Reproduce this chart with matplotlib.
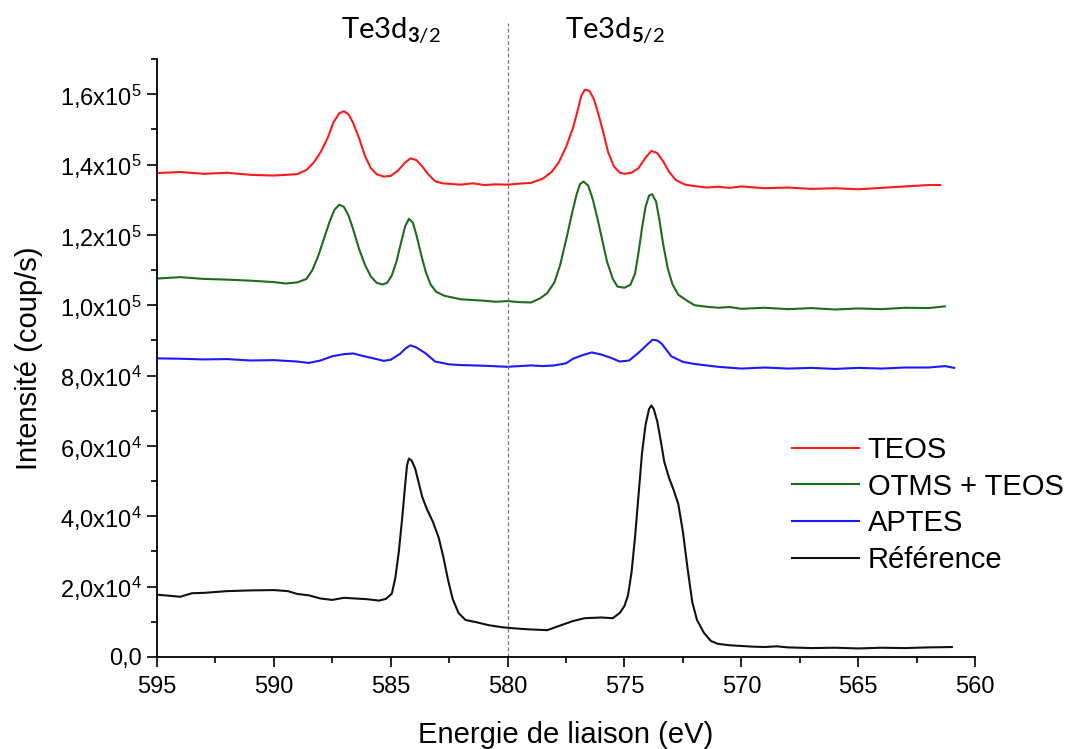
import matplotlib
matplotlib.use("Agg")
import matplotlib.pyplot as plt
from matplotlib.ticker import FuncFormatter, MultipleLocator
from matplotlib.transforms import blended_transform_factory

plt.rcParams["font.family"] = ["Liberation Sans", "DejaVu Sans"]
plt.rcParams["mathtext.fontset"] = "custom"
plt.rcParams["mathtext.bf"] = "Lato:bold"
plt.rcParams["mathtext.default"] = "regular"

# binding energy (eV) / intensity (counts/s)
teos_x = [595.0, 594.0, 593.0, 592.0, 591.0, 590.0, 589.0, 588.6, 588.3, 588.0, 587.7, 587.45,
          587.2, 587.0, 586.8, 586.6, 586.35, 586.1, 585.85, 585.6, 585.3, 585.0, 584.7, 584.4,
          584.15, 583.9, 583.65, 583.4, 583.1, 582.8, 582.4, 582.0, 581.5, 581.0, 580.5, 580.0,
          579.5, 579.0, 578.5, 578.1, 577.8, 577.5, 577.2, 577.0, 576.85, 576.7, 576.5, 576.3,
          576.1, 575.9, 575.7, 575.45, 575.2, 575.0, 574.7, 574.4, 574.1, 573.85, 573.6, 573.35,
          573.1, 572.8, 572.4, 572.0, 571.5, 571.0, 570.5, 570.0, 569.0, 568.0, 567.0, 566.0,
          565.0, 564.0, 563.0, 562.0, 561.5]
teos_y = [137600, 137900, 137400, 137700, 137100, 136900, 137300, 138500, 140500, 143500, 147500, 152000,
          154600, 155200, 154300, 151800, 147500, 142500, 139000, 137300, 136600, 136800, 138200, 140500,
          141800, 141300, 139500, 137300, 135300, 134700, 134500, 134300, 134700, 134200, 134400, 134300,
          134600, 134800, 136000, 138000, 140800, 145000, 150500, 155500, 159500, 161300, 161000, 158500,
          154000, 149000, 143500, 139500, 137700, 137400, 137700, 139000, 142000, 143900, 143300, 141000,
          138000, 135600, 134300, 133900, 133500, 133700, 133400, 133800, 133300, 133500, 133100, 133300,
          133000, 133400, 133800, 134200, 134200]

otms_x = [595.0, 594.0, 593.0, 592.0, 591.0, 590.0, 589.5, 589.0, 588.6, 588.35, 588.1, 587.85,
          587.6, 587.4, 587.2, 587.0, 586.8, 586.6, 586.35, 586.1, 585.85, 585.6, 585.35, 585.15,
          584.95, 584.75, 584.55, 584.38, 584.22, 584.05, 583.9, 583.7, 583.5, 583.3, 583.05, 582.7,
          582.0, 581.5, 581.0, 580.5, 580.0, 579.5, 579.0, 578.6, 578.3, 578.0, 577.75, 577.5,
          577.25, 577.05, 576.9, 576.75, 576.55, 576.35, 576.15, 575.95, 575.75, 575.5, 575.3, 575.0,
          574.75, 574.55, 574.4, 574.25, 574.1, 573.95, 573.82, 573.65, 573.5, 573.35, 573.15, 572.95,
          572.7, 572.3, 572.0, 571.5, 571.0, 570.5, 570.0, 569.0, 568.0, 567.0, 566.0, 565.0,
          564.0, 563.0, 562.0, 561.3]
otms_y = [107600, 108000, 107500, 107300, 107000, 106600, 106200, 106500, 107500, 110000, 114000, 119000,
          124000, 127200, 128600, 128000, 125500, 121500, 116000, 111500, 108200, 106400, 105900, 106400,
          108500, 112500, 118000, 122500, 124600, 123500, 120000, 114500, 109500, 106000, 103800, 102700,
          101700, 101500, 101300, 101000, 101200, 100900, 100800, 102000, 103500, 106500, 111500, 118500,
          126000, 131500, 134500, 135200, 134000, 130000, 124500, 118500, 112500, 107500, 105300, 105000,
          105800, 109000, 115000, 122000, 128000, 131200, 131600, 129500, 124000, 117500, 110500, 106000,
          103000, 101200, 100000, 99600, 99300, 99500, 99000, 99300, 98900, 99200, 98800, 99100,
          98900, 99300, 99200, 99700]

aptes_x = [595.0, 594.0, 593.0, 592.0, 591.0, 590.0, 589.0, 588.5, 588.0, 587.5, 587.0, 586.6,
           586.2, 585.8, 585.3, 585.0, 584.6, 584.35, 584.15, 583.9, 583.5, 583.1, 582.5, 582.0,
           581.0, 580.0, 579.0, 578.5, 578.0, 577.5, 577.2, 576.8, 576.4, 576.0, 575.6, 575.2,
           574.8, 574.4, 574.0, 573.8, 573.6, 573.4, 573.0, 572.5, 572.0, 571.0, 570.0, 569.0,
           568.0, 567.0, 566.0, 565.0, 564.0, 563.0, 562.0, 561.3, 560.9]
aptes_y = [84900, 84800, 84600, 84700, 84300, 84400, 84000, 83600, 84300, 85500, 86100, 86300,
           85600, 85000, 84200, 84500, 86200, 87800, 88600, 88000, 86300, 84000, 83200, 83000,
           82800, 82500, 82900, 82700, 82900, 83500, 84800, 85800, 86600, 86000, 85100, 84000,
           84300, 86500, 89000, 90200, 90000, 89000, 85500, 83900, 83300, 82500, 82000, 82300,
           82000, 82200, 81900, 82200, 82000, 82300, 82300, 82700, 82200]

ref_x = [595.0, 594.5, 594.0, 593.5, 593.0, 592.0, 591.0, 590.0, 589.4, 589.0, 588.5, 588.0,
         587.5, 587.0, 586.5, 586.0, 585.5, 585.2, 584.95, 584.8, 584.65, 584.5, 584.38, 584.3,
         584.22, 584.1, 583.95, 583.8, 583.65, 583.45, 583.2, 582.95, 582.75, 582.55, 582.35, 582.1,
         581.8, 581.3, 580.8, 580.2, 579.5, 579.0, 578.3, 577.8, 577.2, 576.7, 576.0, 575.5,
         575.2, 575.0, 574.85, 574.7, 574.55, 574.4, 574.25, 574.1, 573.95, 573.85, 573.75, 573.6,
         573.45, 573.3, 573.1, 572.9, 572.7, 572.5, 572.3, 572.1, 571.9, 571.6, 571.3, 571.0,
         570.5, 570.0, 569.5, 569.0, 568.5, 568.0, 567.0, 566.0, 565.0, 564.0, 563.0, 562.0,
         561.0]
ref_y = [17700, 17400, 17100, 18100, 18200, 18700, 18900, 19000, 18700, 17900, 17500, 16600,
         16200, 16800, 16600, 16400, 16000, 16500, 18000, 22500, 30000, 40000, 49000, 54500,
         56400, 55800, 53500, 49500, 45500, 42000, 38500, 34000, 28500, 22000, 16500, 12500,
         10500, 9800, 9000, 8400, 8000, 7800, 7600, 8800, 10200, 11000, 11200, 11000,
         12500, 14500, 17500, 24000, 34000, 46000, 58000, 66000, 70500, 71500, 70500, 67000,
         61500, 55500, 51000, 47500, 43500, 35500, 25000, 15500, 10500, 6800, 4500, 3700,
         3300, 3100, 2900, 2800, 3000, 2700, 2500, 2600, 2400, 2600, 2500, 2700,
         2800]

series = [
    ("TEOS", teos_x, teos_y, "#ff1a1a"),
    ("OTMS + TEOS", otms_x, otms_y, "#1e6b1e"),
    ("APTES", aptes_x, aptes_y, "#1a1aff"),
    ("Référence", ref_x, ref_y, "#111111"),
]


def sci_comma(value, _pos):
    if value == 0:
        return "0,0"
    exponent = len(str(int(round(value)))) - 1
    mantissa = value / 10 ** exponent
    return f"{mantissa:.1f}".replace(".", ",") + f"x10$^{{{exponent}}}$"


fig = plt.figure(figsize=(10.67, 7.49), dpi=100)
ax = fig.add_axes([0.147, 0.123, 0.767, 0.798])

for label, xs, ys, color in series:
    ax.plot(xs, ys, color=color, lw=1.5, label=label)

ax.axvline(580, ymin=0, ymax=1.06, clip_on=False, color="#777777", lw=0.9, ls=(0, (3, 2)))

ax.set_xlim(595, 560)
ax.set_ylim(0, 170000)
ax.xaxis.set_major_locator(MultipleLocator(5))
ax.xaxis.set_minor_locator(MultipleLocator(2.5))
ax.yaxis.set_major_locator(MultipleLocator(20000))
ax.yaxis.set_minor_locator(MultipleLocator(10000))
ax.yaxis.set_major_formatter(FuncFormatter(sci_comma))
ax.tick_params(which="major", direction="out", length=7, width=1.2, labelsize=17)
ax.tick_params(axis="x", which="major", pad=7)
ax.tick_params(axis="y", which="major", pad=4)
ax.tick_params(which="minor", direction="out", length=4, width=1.2)
for side in ("top", "right"):
    ax.spines[side].set_visible(False)
for side in ("left", "bottom"):
    ax.spines[side].set_linewidth(1.3)

ax.set_xlabel("Energie de liaison (eV)", fontsize=21, labelpad=16)
ax.set_ylabel("Intensité (coup/s)", fontsize=21, labelpad=12)

trans = blended_transform_factory(ax.transData, ax.transAxes)
ax.text(585.0, 1.022, r"Te3d$_{\mathbf{3}/2}$", transform=trans, ha="center", va="bottom",
        fontsize=21, family="Lato")
ax.text(575.4, 1.022, r"Te3d$_{\mathbf{5}/2}$", transform=trans, ha="center", va="bottom",
        fontsize=21, family="Lato")

ax.legend(loc="upper left", bbox_to_anchor=(0.742, 0.418), bbox_transform=fig.transFigure,
          frameon=False, fontsize=21, handlelength=2.3, handletextpad=0.3,
          labelspacing=0.3, borderpad=0, borderaxespad=0)

fig.savefig("out.png", dpi=100)
